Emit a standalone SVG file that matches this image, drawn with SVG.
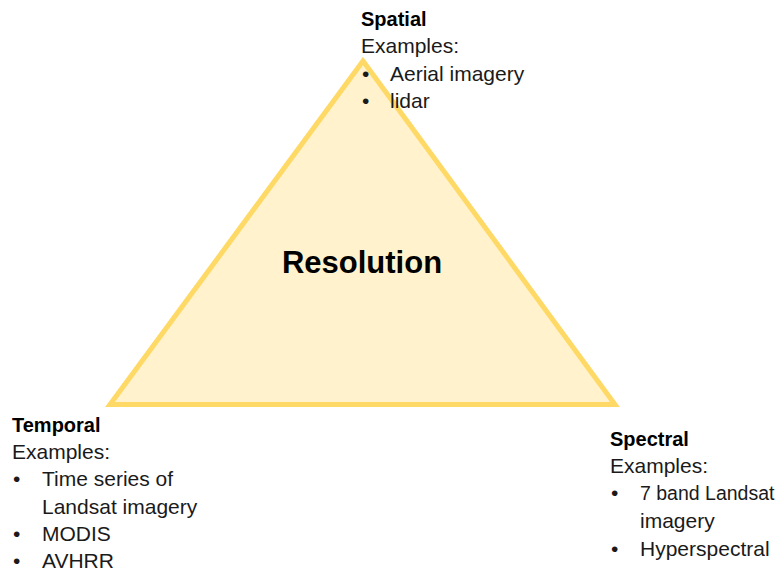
<svg xmlns="http://www.w3.org/2000/svg" width="783" height="571" viewBox="0 0 783 571">
<style>
text{font-family:"Liberation Sans",Arial,sans-serif;font-size:21px;fill:#1a1a1a}
.h{font-size:20px;font-weight:bold;fill:#000}
.c{font-size:31px;font-weight:bold;text-anchor:middle;fill:#000}
.n{font-size:19.5px}
</style>
<rect width="783" height="571" fill="#fff"/>
<g id="triangle">
<polygon points="363,61 110,404.5 615,404.5" fill="#FFF2CC" stroke="#FFD966" stroke-width="5"/>
<text class="c" x="362" y="273">Resolution</text>
</g>
<g id="spatial">
<text class="h" x="361" y="26">Spatial</text>
<text x="361" y="53">Examples:</text>
<text x="362" y="81">•</text><text x="390" y="81">Aerial imagery</text>
<text x="362" y="108">•</text><text x="390" y="108">lidar</text>
</g>
<g id="temporal">
<text class="h" x="12" y="432">Temporal</text>
<text x="12" y="459">Examples:</text>
<text x="13" y="486">•</text><text x="42" y="486">Time series of</text>
<text x="42" y="514">Landsat imagery</text>
<text x="13" y="541">•</text><text x="42" y="541">MODIS</text>
<text x="13" y="568">•</text><text x="42" y="568">AVHRR</text>
</g>
<g id="spectral">
<text class="h" x="610" y="446">Spectral</text>
<text x="610" y="473">Examples:</text>
<text x="611" y="500">•</text><text class="n" x="640" y="500">7 band Landsat</text>
<text x="640" y="528">imagery</text>
<text x="611" y="556">•</text><text x="640" y="556">Hyperspectral</text>
</g>
<g id="connectors"/>
</svg>
